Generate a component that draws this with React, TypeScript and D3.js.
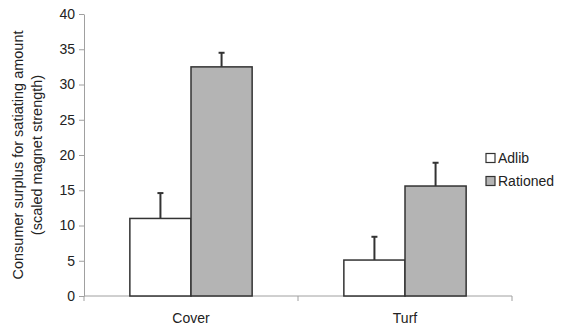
import React, { useEffect, useRef } from 'react';
import * as d3 from 'd3';

const categories = ['Cover', 'Turf'];
const seriesNames = ['Adlib', 'Rationed'];
const adlibValues = [11, 5.1];
const adlibErrors = [3.6, 3.3];
const rationedValues = [32.5, 15.6];
const rationedErrors = [2.0, 3.3];
const yTicks = [0, 5, 10, 15, 20, 25, 30, 35, 40];

const width = 570;
const height = 330;
const FONT = 'Liberation Sans, Arial, sans-serif';
const AXIS_COLOR = '#a0a0a0';
const BAR_STROKE = '#333';
const fills = ['#ffffff', '#b4b4b4'];

export default function App() {
  const svgRef = useRef<SVGSVGElement | null>(null);

  useEffect(() => {
    if (!svgRef.current) return;
    const svg = d3.select(svgRef.current);
    svg.selectAll('*').remove();

    const margin = { left: 84, right: 58, top: 14, bottom: 34 };
    const x = d3.scaleBand<string>()
      .domain(categories)
      .range([margin.left, width - margin.right])
      .paddingInner(0)
      .paddingOuter(0);
    const inner = d3.scaleBand<string>()
      .domain(seriesNames)
      .range([0, x.bandwidth()])
      .paddingOuter(0.75)
      .paddingInner(0);
    const y = d3.scaleLinear().domain([0, 40]).range([height - margin.bottom, margin.top]);

    // y axis
    const yAxis = svg.append('g').attr('transform', `translate(${margin.left},0)`)
      .call(d3.axisLeft(y).tickValues(yTicks).tickSize(5).tickSizeOuter(0));
    yAxis.select('.domain').attr('stroke', AXIS_COLOR);
    yAxis.selectAll('.tick line').attr('stroke', AXIS_COLOR);
    yAxis.selectAll('.tick text')
      .attr('fill', '#222').attr('font-family', FONT).attr('font-size', 14).attr('x', -9);

    // x axis
    const x0 = y(0);
    svg.append('line')
      .attr('x1', margin.left).attr('x2', width - margin.right)
      .attr('y1', x0).attr('y2', x0).attr('stroke', AXIS_COLOR);
    const boundaries = [...categories.map(c => x(c) as number), width - margin.right];
    boundaries.forEach(b => {
      svg.append('line').attr('x1', b).attr('x2', b).attr('y1', x0).attr('y2', x0 + 5)
        .attr('stroke', AXIS_COLOR);
    });
    categories.forEach(c => {
      svg.append('text')
        .attr('x', (x(c) as number) + x.bandwidth() / 2)
        .attr('y', 323)
        .attr('text-anchor', 'middle')
        .attr('font-family', FONT).attr('font-size', 14).attr('fill', '#222')
        .text(c);
    });

    // bars
    const series = [
      { name: 'Adlib', values: adlibValues, errors: adlibErrors },
      { name: 'Rationed', values: rationedValues, errors: rationedErrors },
    ];
    series.forEach((s, si) => {
      categories.forEach((c, ci) => {
        const bx = (x(c) as number) + (inner(s.name) as number);
        const bw = inner.bandwidth();
        const v = s.values[ci];
        const cx = bx + bw / 2;
        // error bar
        svg.append('line').attr('x1', cx).attr('x2', cx)
          .attr('y1', y(v)).attr('y2', y(v + s.errors[ci]))
          .attr('stroke', BAR_STROKE).attr('stroke-width', 2);
        svg.append('line').attr('x1', cx - 3).attr('x2', cx + 3)
          .attr('y1', y(v + s.errors[ci])).attr('y2', y(v + s.errors[ci]))
          .attr('stroke', BAR_STROKE).attr('stroke-width', 2);
        svg.append('rect')
          .attr('x', bx).attr('y', y(v))
          .attr('width', bw).attr('height', y(0) - y(v))
          .attr('fill', fills[si]).attr('stroke', BAR_STROKE).attr('stroke-width', 1.5);
      });
    });

    // legend
    seriesNames.forEach((n, i) => {
      const ly = 158 + i * 23;
      svg.append('rect').attr('x', 486).attr('y', ly - 4.5).attr('width', 9).attr('height', 9)
        .attr('fill', fills[i]).attr('stroke', BAR_STROKE).attr('stroke-width', 1.2);
      svg.append('text').attr('x', 498).attr('y', ly).attr('dy', '0.35em')
        .attr('font-family', FONT).attr('font-size', 14).attr('fill', '#222').text(n);
    });

    // y label
    const label = svg.append('text')
      .attr('transform', `translate(23,${(y(0) + y(40)) / 2}) rotate(-90)`)
      .attr('text-anchor', 'middle')
      .attr('font-family', FONT).attr('font-size', 14.5).attr('fill', '#222');
    label.append('tspan').attr('x', 0).attr('y', 0).text('Consumer surplus for satiating amount');
    label.append('tspan').attr('x', 0).attr('y', 19).text('(scaled magnet strength)');
  }, []);

  return (
    <div style={{ position: 'absolute', left: 0, top: 0, width, height, background: '#fff' }}>
      <svg ref={svgRef} width={width} height={height} />
    </div>
  );
}
